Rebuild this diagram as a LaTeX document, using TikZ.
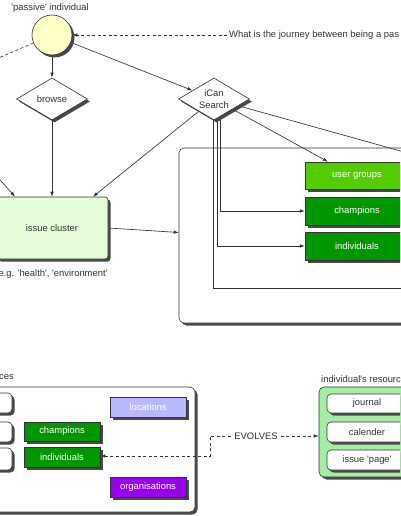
\documentclass[tikz,border=0pt]{standalone}
\usepackage{fontspec}
\setmainfont{Liberation Sans}
\usetikzlibrary{shapes.geometric,shadows,arrows.meta,calc}
\pgfdeclarelayer{back}\pgfdeclarelayer{mid}\pgfsetlayers{back,mid,main}
\definecolor{pale}{RGB}{255,255,200}
\definecolor{mint}{RGB}{228,252,216}
\definecolor{lime}{RGB}{85,204,0}
\definecolor{dgreen}{RGB}{0,150,0}
\definecolor{lav}{RGB}{184,184,255}
\definecolor{purp}{RGB}{153,0,238}
\definecolor{resgreen}{RGB}{164,238,164}
\definecolor{ink}{RGB}{51,51,51}
\definecolor{shade}{RGB}{72,72,72}
\newcommand{\q}{\textquotesingle}
\begin{document}
\begin{tikzpicture}[x=1pt,y=-1pt,
  font=\fontsize{9.4}{11.5}\selectfont, text=ink,
  shad/.style={drop shadow={shadow xshift=2.5pt,shadow yshift=-2.5pt,fill=shade,opacity=1}},
  conn/.style={draw=ink, line width=0.65pt},
  arr/.style={conn, -{Latex[length=5pt,width=3.5pt]}},
  dashln/.style={conn, dash pattern=on 3pt off 2.5pt},
  dia/.style={diamond, aspect=1.7, draw=ink, line width=0.6pt, fill=white, minimum width=71pt, minimum height=42pt, inner sep=0pt, shad, align=center},
  frame/.style={draw=ink, line width=0.6pt, rounded corners=5pt, shad, inner sep=0pt},
  colbox/.style={draw=ink, line width=0.5pt, shad, inner sep=0pt, text=white},
  wbox/.style={draw=ink, line width=0.6pt, fill=white, rounded corners=4pt, shad, inner sep=0pt},
  lbl/.style={inner sep=0pt}
]
\useasboundingbox (0,0) rectangle (400,516);
\clip (0,0) rectangle (400,516);

% ---------- containers ----------
\begin{pgfonlayer}{back}
\node[frame, fill=white, minimum width=260pt, minimum height=175pt] (bigbox) at (309,235.5) {};
\node[frame, fill=white, minimum width=205pt, minimum height=125pt] (resleft) at (92.5,449.5) {};
\node[frame, fill=resgreen, minimum width=121pt, minimum height=90pt] (resbox) at (379.5,432) {};
\end{pgfonlayer}

% ---------- top ----------
\node[circle, draw=ink, line width=0.6pt, fill=pale, minimum size=40pt, inner sep=0pt, shad] (circ) at (52,35) {};
\node[lbl] (plbl) at (50,8) {\q passive\q{} individual};
\node[lbl, anchor=west] (question) at (229,35) {What is the journey between being a pas};
\coordinate (leftdash) at (-20,66);

\node[dia] (browse) at (52,99) {browse};
\node[dia] (ican) at (214,99) {iCan\\Search};

\node[draw=ink, line width=0.6pt, fill=mint, rounded corners=3pt, minimum width=112pt, minimum height=62pt, shad] (cluster) at (52,228) {issue cluster};
\node[lbl] (eg) at (53,274) {e.g. \q health\q, \q environment\q};
\coordinate (leftin) at (-15,163);

\node[colbox, fill=lime, minimum width=104pt, minimum height=27pt] (ug) at (357,175.5) {user groups};
\node[colbox, fill=dgreen, minimum width=104pt, minimum height=28pt] (champ) at (357,211) {champions};
\node[colbox, fill=dgreen, minimum width=104pt, minimum height=28pt] (indiv) at (357,246) {individuals};
\coordinate (farright) at (440,162);
\coordinate (farline) at (440,288);

% ---------- bottom left ----------
\node[lbl, anchor=east] (ceslbl) at (14,377) {ces};
\node[wbox, minimum width=72pt, minimum height=20pt] (wl1) at (-24,403) {};
\node[wbox, minimum width=72pt, minimum height=20pt] (wl2) at (-24,432) {};
\node[wbox, minimum width=72pt, minimum height=22pt] (wl3) at (-24,459) {};
\node[colbox, fill=dgreen, minimum width=76pt, minimum height=19pt] (champ2) at (62,431.5) {champions};
\node[colbox, fill=dgreen, minimum width=76pt, minimum height=20pt] (indiv2) at (62,457) {individuals};
\node[colbox, fill=lav, minimum width=76pt, minimum height=20pt] (loc) at (148,407) {locations};
\node[colbox, fill=purp, minimum width=76pt, minimum height=20pt] (org) at (148,487) {organisations};

\node[lbl] (evolves) at (256,436) {EVOLVES};

% ---------- bottom right ----------
\node[lbl, anchor=west] (reslbl) at (321,379) {individual\q s resourc};
\node[wbox, minimum width=80pt, minimum height=19pt] (journal) at (367,403.5) {journal};
\node[wbox, minimum width=80pt, minimum height=20pt] (cal) at (367,432) {calender};
\node[wbox, minimum width=80pt, minimum height=20pt] (ipage) at (367,460) {issue \q page\q};

% ---------- connectors ----------
\begin{pgfonlayer}{mid}
\draw[dashln] (circ) -- (leftdash);
\draw[dashln, -{Latex[length=5pt,width=3.5pt]}] ([xshift=-2pt]question.west) -- (circ.east);
\draw[arr] (circ.south) -- (browse.north);
\draw[arr] (circ) -- (ican);
\draw[arr] (browse.south) -- (cluster.north);
\draw[arr] (leftin) -- ([xshift=-37pt]cluster.north);
\draw[arr] (ican) -- ([xshift=41pt]cluster.north);
\draw[arr] (ican) -- ([xshift=-29pt]ug.north);
\draw[conn] (ican) -- (farright);
\draw[arr] ([xshift=6pt,yshift=4pt]ican.south) |- (champ.west);
\draw[arr] ([xshift=3pt,yshift=2pt]ican.south) |- (indiv.west);
\draw[conn] ([xshift=-1pt,yshift=1pt]ican.south) |- (farline);
\draw[arr] (cluster.east) -- ([yshift=3pt]bigbox.west);
\draw[dashln, {Latex[length=5pt,width=3.5pt]}-] ([yshift=1pt]indiv2.east) -- ++(110,0) |- ([xshift=-3pt]evolves.west);
\draw[dashln, -{Latex[length=5pt,width=3.5pt]}] ([xshift=3pt]evolves.east) -- (evolves.east -| resbox.west);
\end{pgfonlayer}
\end{tikzpicture}
\end{document}
